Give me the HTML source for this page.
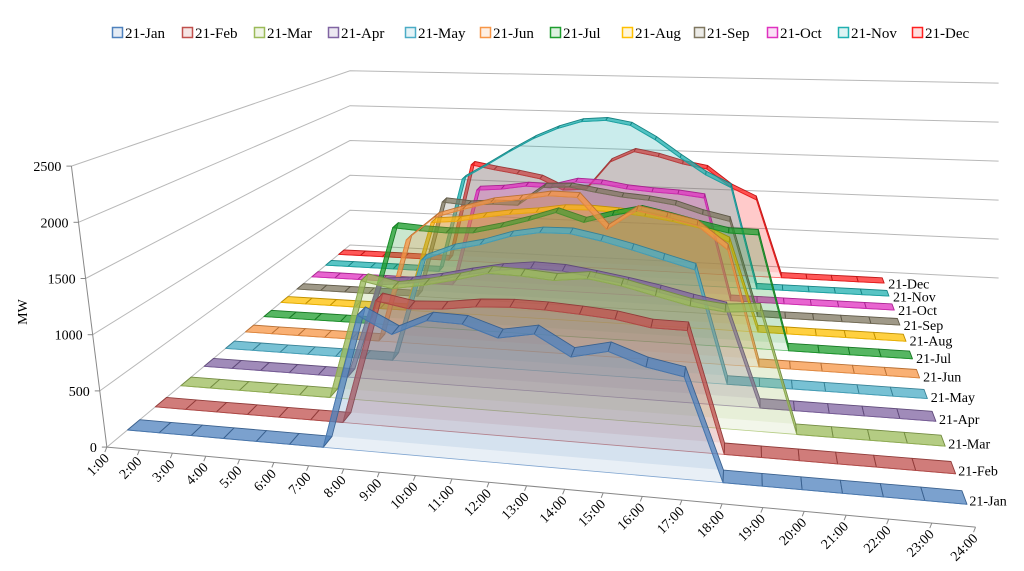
<!DOCTYPE html>
<html><head><meta charset="utf-8">
<style>
html,body{margin:0;padding:0;background:#fff;}
svg{display:block;font-family:"Liberation Serif",serif;}
</style></head>
<body>
<svg id="chart" width="1024" height="571" viewBox="0 0 1024 571" xmlns="http://www.w3.org/2000/svg">
<g id="legend"></g>
<g id="walls"></g>
<g id="axes"></g>
<g id="series"></g>
<text x="0" y="0" transform="translate(27,312) rotate(-90)" text-anchor="middle" font-size="14">MW</text>
</svg>
<script>
const hours = ['1:00','2:00','3:00','4:00','5:00','6:00','7:00','8:00','9:00','10:00','11:00','12:00','13:00','14:00','15:00','16:00','17:00','18:00','19:00','20:00','21:00','22:00','23:00','24:00'];
const months = ['21-Jan','21-Feb','21-Mar','21-Apr','21-May','21-Jun','21-Jul','21-Aug','21-Sep','21-Oct','21-Nov','21-Dec'];
const yTicks = [0,500,1000,1500,2000,2500];
const colors = ['#4F81BD','#C0504D','#9BBB59','#8064A2','#4BACC6','#F79646','#1E9E2E','#FFC000','#7F7760','#E030C0','#20B0B0','#FF2020'];
const jan = [0,0,0,0,0,0,0,1190,1040,1180,1170,1070,1125,950,1020,910,850,0,0,0,0,0,0,0];
const feb = [0,0,0,0,0,0,0,1150,1095,1110,1150,1165,1160,1140,1115,1060,1055,0,0,0,0,0,0,0];
const mar = [0,0,0,0,0,0,1160,1100,1150,1220,1300,1290,1265,1300,1250,1175,1100,1065,1090,0,0,0,0,0];
const apr = [0,0,0,0,0,0,960,990,1045,1115,1175,1210,1200,1155,1105,1045,975,915,0,0,0,0,0,0];
const may = [0,0,0,0,0,0,0,1075,1200,1270,1370,1425,1430,1370,1295,1210,1125,0,0,0,0,0,0,0];
const jun = [0,0,0,0,0,0,1135,1395,1495,1585,1630,1685,1680,1350,1565,1505,1435,1195,0,0,0,0,0,0];
const jul = [0,0,0,0,0,1120,1100,1090,1105,1180,1270,1375,1280,1370,1440,1375,1300,1235,1230,0,0,0,0,0];
const aug = [0,0,0,0,0,0,1060,1090,1150,1200,1235,1285,1290,1275,1245,1200,1135,990,0,0,0,0,0,0];
const sep = [0,0,0,0,0,0,1180,1155,1180,1180,1410,1425,1375,1330,1305,1260,1165,1095,0,0,0,0,0,0];
const oct = [0,0,0,0,0,0,0,1220,1245,1295,1285,1370,1360,1310,1285,1270,1235,0,0,0,0,0,0,0];
const nov = [0,0,0,0,0,0,1235,1420,1615,1795,1935,2035,2060,2005,1830,1610,1405,1255,0,0,0,0,0,0];
const dec = [0,0,0,0,0,0,1315,1260,1215,1160,1020,1045,1420,1565,1510,1425,1370,1135,990,0,0,0,0,0];
const seriesData = [jan,feb,mar,apr,may,jun,jul,aug,sep,oct,nov,dec];

const NS='http://www.w3.org/2000/svg';
const x0=125,y0=432,x1=968,y1=507,x2=880,y2=272,x3=350,y3=245;
const dx1=x1-x2,dx2=x3-x2,dx3=x0-x1+x2-x3,dy1=y1-y2,dy2=y3-y2,dy3=y0-y1+y2-y3;
const den=dx1*dy2-dx2*dy1;
const G=(dx3*dy2-dx2*dy3)/den, H=(dx1*dy3-dx3*dy1)/den;
const A=x1-x0+G*x1, B=x3-x0+H*x3, C=x0, D=y1-y0+G*y1, E=y3-y0+H*y3, F=y0;
const S0=273/2500;
function P(u,v,val){const w=1+G*u+H*v;return [(A*u+B*v+C)/w,(D*u+E*v+F)/w-val*S0/w];}
// leaning version used for axis / wall lines (perspective convergence near the front)
function PL(u,v,val){const p=P(u,v,val);const f=Math.max(0,1-v);return [p[0]-val*0.0135*f,p[1]];}
function uOf(i){return i/(hours.length-1);}
function vOf(s){return (s+0.3)/12;}
function el(tag,attrs,parent){const e=document.createElementNS(NS,tag);for(const k in attrs)e.setAttribute(k,attrs[k]);parent.appendChild(e);return e;}
function pts(a){return a.map(p=>p[0].toFixed(1)+','+p[1].toFixed(1)).join(' ');}
function shade(hex,f){const n=parseInt(hex.slice(1),16);const r=Math.round(((n>>16)&255)*f),g=Math.round(((n>>8)&255)*f),b=Math.round((n&255)*f);return 'rgb('+r+','+g+','+b+')';}

const walls=document.getElementById('walls');
yTicks.forEach(k=>{
  const a=PL(0,-0.05,k),b=P(0,1,k),c=P(1.2,1,k);
  const l1=el('polyline',{points:pts([a,b,c]),fill:'none',stroke:'#b8b8b8','stroke-width':1},walls);
  
  
});
const axes=document.getElementById('axes');
const ya0=PL(0,-0.05,0),ya1=PL(0,-0.05,2500);
const ya=el('line',{x1:ya0[0],y1:ya0[1],x2:ya1[0],y2:ya1[1],stroke:'#888','stroke-width':1},axes);


yTicks.forEach(k=>{
  const p=PL(0,-0.05,k);
  const t=el('text',{x:p[0]-10,y:p[1]+5,'text-anchor':'end','font-size':14,fill:'#000'},axes);
  t.textContent=k;
  
  
  el('line',{x1:p[0]-5,y1:p[1],x2:p[0],y2:p[1],stroke:'#888'},axes);
});
const xa0=P(0,-0.05,0),xa1=P(1,-0.05,0);
const xa=el('line',{x1:xa0[0],y1:xa0[1],x2:xa1[0],y2:xa1[1],stroke:'#888','stroke-width':1},axes);


hours.forEach((h,i)=>{
  const p=P(uOf(i),-0.05,0);
  el('line',{x1:p[0],y1:p[1],x2:p[0]-2,y2:p[1]+5,stroke:'#888'},axes);
  const t=el('text',{x:0,y:0,'text-anchor':'end','font-size':14,transform:'translate('+(p[0]+3).toFixed(1)+','+(p[1]+12).toFixed(1)+') rotate(-45)'},axes);
  t.textContent=h;
  
  
});

const sg=document.getElementById('series');
const T=0.018;
for(let s=months.length-1;s>=0;s--){
  const data=seriesData[s],col=colors[s],v=vOf(s),vf=v-T,vb=v+T;
  const g=el('g',{},sg);
  
  
  const n=data.length;
  const back=data.map((d,i)=>P(uOf(i),vb,d)).concat([P(1,vb,0),P(0,vb,0)]);
  const bf=el('polygon',{points:pts(back),fill:col,'fill-opacity':0.12,stroke:'none'},g);
  
  
  for(let i=0;i<n-1;i++){
    const q=[P(uOf(i),vf,data[i]),P(uOf(i+1),vf,data[i+1]),P(uOf(i+1),vb,data[i+1]),P(uOf(i),vb,data[i])];
    const r=el('polygon',{points:pts(q),fill:col,'fill-opacity':0.75,stroke:shade(col,0.75),'stroke-width':0.9,'stroke-linejoin':'round'},g);
    
    
  }
  const front=data.map((d,i)=>P(uOf(i),vf,d)).concat([P(1,vf,0),P(0,vf,0)]);
  const ff=el('polygon',{points:pts(front),fill:col,'fill-opacity':0.13,stroke:col,'stroke-opacity':0.7,'stroke-width':0.8},g);
  
  
  const lp=P(1,v,0);
  const lt=el('text',{x:(lp[0]+5).toFixed(1),y:(lp[1]+8).toFixed(1),'font-size':14},g);
  lt.textContent=months[s];
  
  
}

const legend=document.getElementById('legend');
const legX=[112,182,254,328,405,480,550,622,694,767,838,912];
function col2(c){return 'rgba('+parseInt(c.slice(1,3),16)+','+parseInt(c.slice(3,5),16)+','+parseInt(c.slice(5,7),16)+',0.15)';}
months.forEach((m,i)=>{
  const g=el('g',{},legend);
  
  
  el('rect',{x:legX[i]+0.5,y:27.5,width:10,height:10,fill:col2(colors[i]),stroke:colors[i],'stroke-width':1.5},g);
  const t=el('text',{x:legX[i]+13,y:38,'font-size':15},g);
  t.textContent=m;
});
</script>
</body></html>
